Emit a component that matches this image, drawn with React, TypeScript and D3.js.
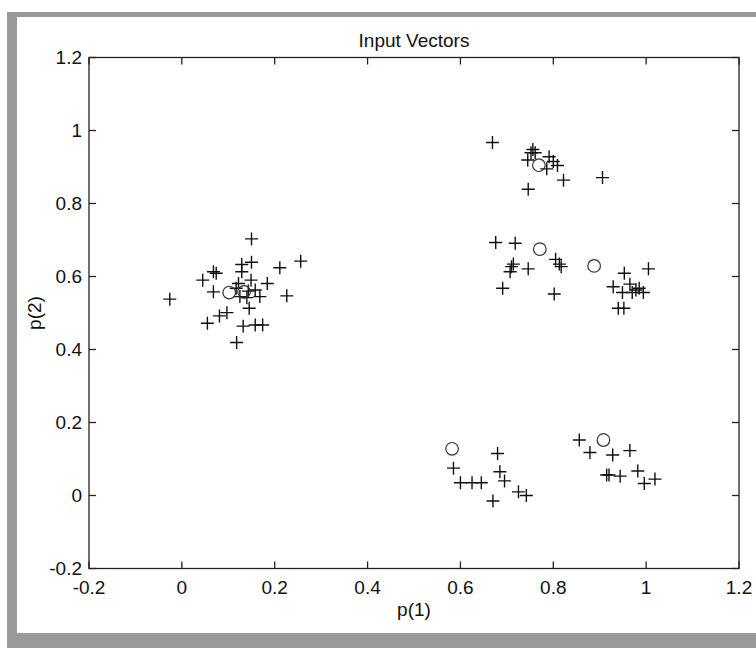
import React, { useRef, useEffect } from 'react';
import * as d3 from 'd3';

// input vectors (plus markers)
const inputX = [
  -0.026, 0.150, 0.256, 0.211, 0.129, 0.150, 0.068, 0.074, 0.045, 0.129, 0.149, 0.184, 0.068, 0.122, 0.117,
  0.125, 0.140, 0.158, 0.168, 0.143, 0.226, 0.145, 0.081, 0.097, 0.055, 0.132, 0.158, 0.174, 0.118,
  0.669, 0.756, 0.752, 0.761, 0.745, 0.791, 0.800, 0.809, 0.786, 0.822, 0.906, 0.746,
  0.676, 0.718, 0.714, 0.710, 0.707, 0.746, 0.805, 0.813, 0.817, 0.691, 0.802,
  0.953, 1.005, 0.929, 0.965, 0.949, 0.970, 0.985, 0.994, 0.978, 0.940, 0.952,
  0.585, 0.600, 0.625, 0.645, 0.680, 0.685, 0.695, 0.670, 0.725, 0.742,
  0.856, 0.879, 0.928, 0.965, 0.915, 0.920, 0.944, 0.982, 0.996, 1.019,
];
const inputY = [
  0.538, 0.703, 0.642, 0.624, 0.633, 0.639, 0.613, 0.609, 0.590, 0.613, 0.590, 0.581, 0.558, 0.581, 0.568,
  0.545, 0.542, 0.563, 0.545, 0.560, 0.547, 0.513, 0.492, 0.501, 0.472, 0.464, 0.467, 0.467, 0.419,
  0.967, 0.948, 0.939, 0.939, 0.919, 0.928, 0.915, 0.904, 0.895, 0.864, 0.871, 0.839,
  0.693, 0.691, 0.634, 0.627, 0.613, 0.621, 0.647, 0.634, 0.627, 0.568, 0.552,
  0.609, 0.621, 0.572, 0.579, 0.556, 0.556, 0.568, 0.556, 0.563, 0.513, 0.513,
  0.075, 0.035, 0.035, 0.035, 0.115, 0.065, 0.040, -0.015, 0.010, 0.000,
  0.152, 0.118, 0.111, 0.123, 0.056, 0.056, 0.053, 0.067, 0.033, 0.045,
];

// neuron weights (circle markers)
const neuronX = [0.102, 0.134, 0.769, 0.771, 0.888, 0.582, 0.908];
const neuronY = [0.556, 0.558, 0.905, 0.675, 0.629, 0.128, 0.152];

const tickValues = [-0.2, 0, 0.2, 0.4, 0.6, 0.8, 1, 1.2];
const titleText = 'Input Vectors';
const xLabel = 'p(1)';
const yLabel = 'p(2)';

const W = 756;
const H = 648;
const FONT = '"Liberation Sans", Arial, sans-serif';

const App = () => {
  const ref = useRef<SVGSVGElement>(null);

  useEffect(() => {
    const svg = d3.select(ref.current);
    svg.selectAll('*').remove();

    const margin = { top: 57.5, right: 17, bottom: 79.5, left: 89 };
    const x = d3.scaleLinear().domain([-0.2, 1.2]).range([margin.left, W - margin.right]);
    const y = d3.scaleLinear().domain([-0.2, 1.2]).range([H - margin.bottom, margin.top]);
    const fmt = (v: number) => String(+v.toFixed(1)).replace('\u2212', '-');

    // figure frame
    svg.append('rect').attr('width', W).attr('height', H).attr('fill', '#fff');
    svg.append('rect').attr('x', 7).attr('y', 12).attr('width', W - 7).attr('height', H - 12).attr('fill', '#999');
    svg.append('rect').attr('x', 17).attr('y', 17).attr('width', W - 17).attr('height', 616).attr('fill', '#fff');

    const [x0, x1] = x.range();
    const [y0, y1] = y.range(); // y0 bottom, y1 top
    const tick = 7;

    const g = svg.append('g').attr('stroke', '#222').attr('stroke-width', 1.3).attr('fill', 'none');
    g.append('rect').attr('x', x0).attr('y', y1).attr('width', x1 - x0).attr('height', y0 - y1);

    tickValues.forEach(v => {
      const px = x(v);
      const py = y(v);
      g.append('line').attr('x1', px).attr('x2', px).attr('y1', y0).attr('y2', y0 - tick);
      g.append('line').attr('x1', px).attr('x2', px).attr('y1', y1).attr('y2', y1 + tick);
      g.append('line').attr('x1', x0).attr('x2', x0 + tick).attr('y1', py).attr('y2', py);
      g.append('line').attr('x1', x1).attr('x2', x1 - tick).attr('y1', py).attr('y2', py);
    });

    const txt = svg.append('g').attr('font-family', FONT).attr('font-size', '19px').attr('fill', '#111');

    tickValues.forEach(v => {
      txt.append('text')
        .attr('x', x(v))
        .attr('y', y0 + 25)
        .attr('text-anchor', 'middle')
        .text(fmt(v));
      txt.append('text')
        .attr('x', x0 - 7)
        .attr('y', y(v))
        .attr('dy', '0.35em')
        .attr('text-anchor', 'end')
        .text(fmt(v));
    });

    txt.append('text')
      .attr('x', (x0 + x1) / 2)
      .attr('y', 47)
      .attr('text-anchor', 'middle')
      .text(titleText);

    txt.append('text')
      .attr('x', (x0 + x1) / 2)
      .attr('y', 616)
      .attr('text-anchor', 'middle')
      .text(xLabel);

    txt.append('text')
      .attr('transform', `translate(41, ${(y0 + y1) / 2}) rotate(-90)`)
      .attr('text-anchor', 'middle')
      .text(yLabel);

    // plus markers
    svg.append('g')
      .selectAll('path')
      .data(inputX.map((v, i) => [v, inputY[i]]))
      .join('path')
      .attr('d', d => `M${x(d[0]) - 6.5},${y(d[1])}H${x(d[0]) + 6.5}M${x(d[0])},${y(d[1]) - 6.5}V${y(d[1]) + 6.5}`)
      .attr('stroke', '#111')
      .attr('stroke-width', 1.4)
      .attr('fill', 'none');

    // circle markers
    svg.append('g')
      .selectAll('circle')
      .data(neuronX.map((v, i) => [v, neuronY[i]]))
      .join('circle')
      .attr('cx', d => x(d[0]))
      .attr('cy', d => y(d[1]))
      .attr('r', 6.3)
      .attr('stroke', '#333')
      .attr('stroke-width', 1.2)
      .attr('fill', 'none');
  }, []);

  return (
    <svg ref={ref} width={W} height={H} style={{ position: 'absolute', left: 0, top: 0 }} />
  );
};

export default App;
